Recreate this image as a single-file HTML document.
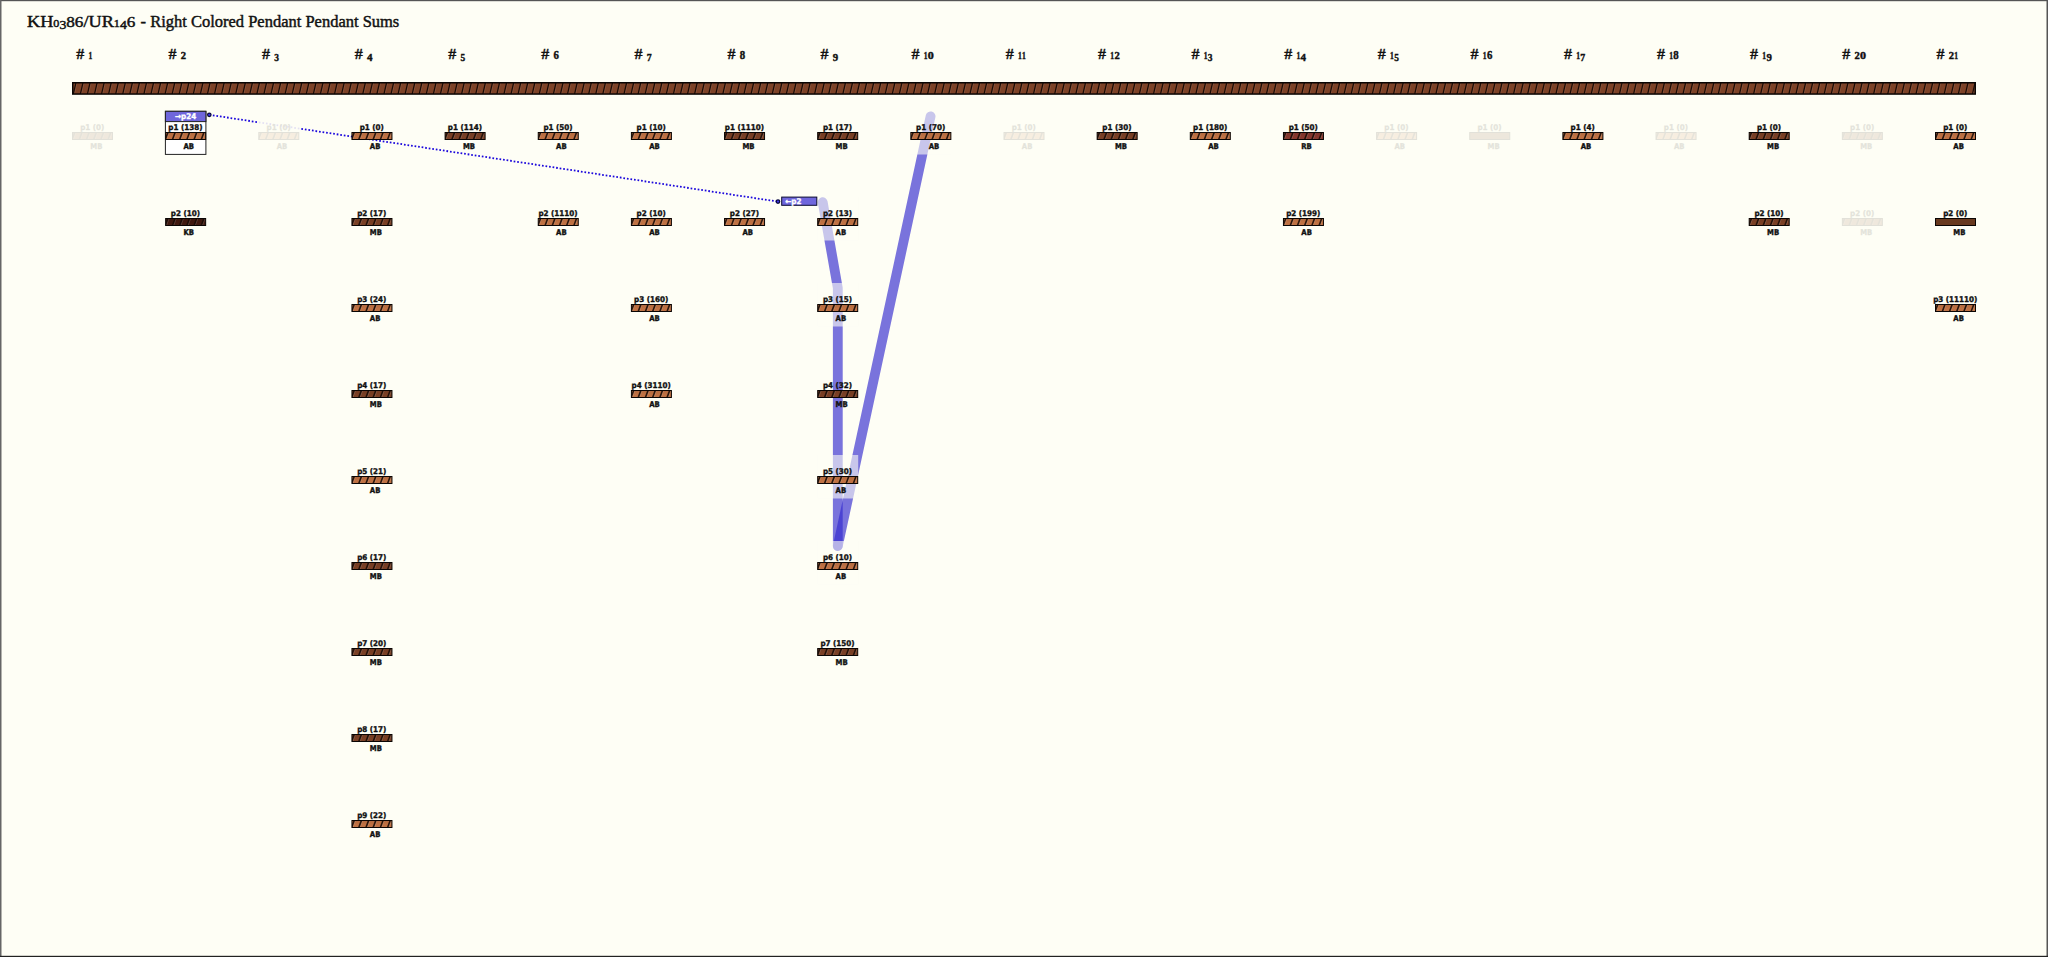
<!DOCTYPE html>
<html lang="en"><head><meta charset="utf-8"><title>KH0386/UR146 - Right Colored Pendant Pendant Sums</title>
<style>html,body{margin:0;padding:0;background:#FEFEF5;overflow:hidden}svg{display:block}.l{font-family:'DejaVu Sans Condensed','DejaVu Sans','Liberation Sans',sans-serif;font-weight:bold;font-size:7.85px;fill:#111;stroke:#111;stroke-width:.34px;text-rendering:geometricPrecision}.h{font-family:'Liberation Serif',serif;font-weight:bold;font-size:14px;fill:#111;stroke:#111;stroke-width:.3px}.t{font-family:'Liberation Serif',serif;font-size:16.5px;fill:#111;stroke:#111;stroke-width:0.45px}</style></head><body>
<svg width="2048" height="957" viewBox="0 0 2048 957">
<defs>
<clipPath id="pc"><rect x="0.5" y="0.5" width="40" height="7"/></clipPath>
<linearGradient id="sh" x1="0" y1="0" x2="0" y2="1"><stop offset="0" stop-color="#000" stop-opacity="0.10"/><stop offset="0.6" stop-color="#000" stop-opacity="0"/><stop offset="1" stop-color="#fff" stop-opacity="0.05"/></linearGradient>
<g id="st" clip-path="url(#pc)"><line x1="3.00" y1="0" x2="0.00" y2="8.00" stroke="#1a0b05" stroke-opacity="0.9" stroke-width="1.70"/><line x1="4.15" y1="0" x2="1.15" y2="8.00" stroke="#fff" stroke-opacity="0.28" stroke-width="0.6"/><line x1="10.20" y1="0" x2="7.20" y2="8.00" stroke="#1a0b05" stroke-opacity="0.9" stroke-width="1.70"/><line x1="11.35" y1="0" x2="8.35" y2="8.00" stroke="#fff" stroke-opacity="0.28" stroke-width="0.6"/><line x1="17.40" y1="0" x2="14.40" y2="8.00" stroke="#1a0b05" stroke-opacity="0.9" stroke-width="1.70"/><line x1="18.55" y1="0" x2="15.55" y2="8.00" stroke="#fff" stroke-opacity="0.28" stroke-width="0.6"/><line x1="24.60" y1="0" x2="21.60" y2="8.00" stroke="#1a0b05" stroke-opacity="0.9" stroke-width="1.70"/><line x1="25.75" y1="0" x2="22.75" y2="8.00" stroke="#fff" stroke-opacity="0.28" stroke-width="0.6"/><line x1="31.80" y1="0" x2="28.80" y2="8.00" stroke="#1a0b05" stroke-opacity="0.9" stroke-width="1.70"/><line x1="32.95" y1="0" x2="29.95" y2="8.00" stroke="#fff" stroke-opacity="0.28" stroke-width="0.6"/><line x1="39.00" y1="0" x2="36.00" y2="8.00" stroke="#1a0b05" stroke-opacity="0.9" stroke-width="1.70"/><line x1="40.15" y1="0" x2="37.15" y2="8.00" stroke="#fff" stroke-opacity="0.28" stroke-width="0.6"/><rect x="0" y="0" width="41" height="8" fill="url(#sh)"/></g>
<g id="bAB"><rect x="0.5" y="0.5" width="40" height="7" fill="#C17243"/><use href="#st"/><rect x="0.5" y="0.5" width="40" height="7" fill="none" stroke="#0a0503" stroke-width="1"/></g>
<g id="bMB"><rect x="0.5" y="0.5" width="40" height="7" fill="#7B4025"/><use href="#st"/><rect x="0.5" y="0.5" width="40" height="7" fill="none" stroke="#0a0503" stroke-width="1"/></g>
<g id="bKB"><rect x="0.5" y="0.5" width="40" height="7" fill="#41190F"/><use href="#st"/><rect x="0.5" y="0.5" width="40" height="7" fill="none" stroke="#0a0503" stroke-width="1"/></g>
<g id="bRB"><rect x="0.5" y="0.5" width="40" height="7" fill="#87372D"/><use href="#st"/><rect x="0.5" y="0.5" width="40" height="7" fill="none" stroke="#0a0503" stroke-width="1"/></g>
<g id="nAB"><rect x="0.5" y="0.5" width="40" height="7" fill="#C17243"/><rect x="0.5" y="0.5" width="40" height="7" fill="none" stroke="#0a0503" stroke-width="1"/></g>
<g id="nMB"><rect x="0.5" y="0.5" width="40" height="7" fill="#68391F"/><rect x="0.5" y="0.5" width="40" height="7" fill="none" stroke="#0a0503" stroke-width="1"/></g>
<g id="nKB"><rect x="0.5" y="0.5" width="40" height="7" fill="#41190F"/><rect x="0.5" y="0.5" width="40" height="7" fill="none" stroke="#0a0503" stroke-width="1"/></g>
<g id="nRB"><rect x="0.5" y="0.5" width="40" height="7" fill="#87372D"/><rect x="0.5" y="0.5" width="40" height="7" fill="none" stroke="#0a0503" stroke-width="1"/></g>
</defs>
<rect x="0" y="0" width="2048" height="957" fill="#FEFEF5"/>
<rect x="0" y="0" width="2048" height="1.2" fill="#555"/>
<rect x="0" y="0" width="1.5" height="957" fill="#666"/>
<rect x="2046.5" y="0" width="1.5" height="957" fill="#555"/>
<rect x="0" y="955.8" width="2048" height="1.2" fill="#222"/>
<text class="t" x="27" y="27" textLength="108.4" lengthAdjust="spacingAndGlyphs">KH<tspan font-size="11px" dy="0">0</tspan><tspan font-size="12.5px" dy="2.4">3</tspan><tspan font-size="15.5px" dy="-2.4">8</tspan><tspan font-size="15.5px" dy="0">6</tspan>/UR<tspan font-size="11px" dy="0">1</tspan><tspan font-size="12.5px" dy="2.4">4</tspan><tspan font-size="15.5px" dy="-2.4">6</tspan></text>
<text class="t" x="140.6" y="27" textLength="258.7" lengthAdjust="spacingAndGlyphs">- Right Colored Pendant Pendant Sums</text>
<text class="h" x="76.20" y="58.5" textLength="8" lengthAdjust="spacingAndGlyphs">#</text>
<text class="h" x="88.45" y="58.50" style="font-size:9.6px;stroke-width:.4px" textLength="3.80" lengthAdjust="spacingAndGlyphs">1</text>
<text class="h" x="168.60" y="58.5" textLength="8" lengthAdjust="spacingAndGlyphs">#</text>
<text class="h" x="180.85" y="58.50" style="font-size:9.6px;stroke-width:.4px" textLength="5.30" lengthAdjust="spacingAndGlyphs">2</text>
<text class="h" x="262.05" y="58.5" textLength="8" lengthAdjust="spacingAndGlyphs">#</text>
<text class="h" x="274.30" y="60.80" style="font-size:11px;stroke-width:.4px" textLength="4.70" lengthAdjust="spacingAndGlyphs">3</text>
<text class="h" x="354.80" y="58.5" textLength="8" lengthAdjust="spacingAndGlyphs">#</text>
<text class="h" x="367.05" y="60.80" style="font-size:11px;stroke-width:.4px" textLength="5.50" lengthAdjust="spacingAndGlyphs">4</text>
<text class="h" x="448.35" y="58.5" textLength="8" lengthAdjust="spacingAndGlyphs">#</text>
<text class="h" x="460.60" y="60.80" style="font-size:11px;stroke-width:.4px" textLength="4.70" lengthAdjust="spacingAndGlyphs">5</text>
<text class="h" x="541.15" y="58.5" textLength="8" lengthAdjust="spacingAndGlyphs">#</text>
<text class="h" x="553.40" y="58.50" style="font-size:11.5px;stroke-width:.4px" textLength="5.40" lengthAdjust="spacingAndGlyphs">6</text>
<text class="h" x="634.55" y="58.5" textLength="8" lengthAdjust="spacingAndGlyphs">#</text>
<text class="h" x="646.80" y="60.80" style="font-size:11px;stroke-width:.4px" textLength="4.90" lengthAdjust="spacingAndGlyphs">7</text>
<text class="h" x="727.45" y="58.5" textLength="8" lengthAdjust="spacingAndGlyphs">#</text>
<text class="h" x="739.70" y="58.50" style="font-size:11.5px;stroke-width:.4px" textLength="5.40" lengthAdjust="spacingAndGlyphs">8</text>
<text class="h" x="820.60" y="58.5" textLength="8" lengthAdjust="spacingAndGlyphs">#</text>
<text class="h" x="832.85" y="60.80" style="font-size:11px;stroke-width:.4px" textLength="5.40" lengthAdjust="spacingAndGlyphs">9</text>
<text class="h" x="911.40" y="58.5" textLength="8" lengthAdjust="spacingAndGlyphs">#</text>
<text class="h" x="923.65" y="58.50" style="font-size:9.6px;stroke-width:.4px" textLength="3.80" lengthAdjust="spacingAndGlyphs">1</text>
<text class="h" x="927.75" y="58.50" style="font-size:9.6px;stroke-width:.4px" textLength="6.00" lengthAdjust="spacingAndGlyphs">0</text>
<text class="h" x="1005.65" y="58.5" textLength="8" lengthAdjust="spacingAndGlyphs">#</text>
<text class="h" x="1017.90" y="58.50" style="font-size:9.6px;stroke-width:.4px" textLength="3.80" lengthAdjust="spacingAndGlyphs">1</text>
<text class="h" x="1022.00" y="58.50" style="font-size:9.6px;stroke-width:.4px" textLength="3.80" lengthAdjust="spacingAndGlyphs">1</text>
<text class="h" x="1098.05" y="58.5" textLength="8" lengthAdjust="spacingAndGlyphs">#</text>
<text class="h" x="1110.30" y="58.50" style="font-size:9.6px;stroke-width:.4px" textLength="3.80" lengthAdjust="spacingAndGlyphs">1</text>
<text class="h" x="1114.40" y="58.50" style="font-size:9.6px;stroke-width:.4px" textLength="5.30" lengthAdjust="spacingAndGlyphs">2</text>
<text class="h" x="1191.50" y="58.5" textLength="8" lengthAdjust="spacingAndGlyphs">#</text>
<text class="h" x="1203.75" y="58.50" style="font-size:9.6px;stroke-width:.4px" textLength="3.80" lengthAdjust="spacingAndGlyphs">1</text>
<text class="h" x="1207.85" y="60.80" style="font-size:11px;stroke-width:.4px" textLength="4.70" lengthAdjust="spacingAndGlyphs">3</text>
<text class="h" x="1284.25" y="58.5" textLength="8" lengthAdjust="spacingAndGlyphs">#</text>
<text class="h" x="1296.50" y="58.50" style="font-size:9.6px;stroke-width:.4px" textLength="3.80" lengthAdjust="spacingAndGlyphs">1</text>
<text class="h" x="1300.60" y="60.80" style="font-size:11px;stroke-width:.4px" textLength="5.50" lengthAdjust="spacingAndGlyphs">4</text>
<text class="h" x="1377.80" y="58.5" textLength="8" lengthAdjust="spacingAndGlyphs">#</text>
<text class="h" x="1390.05" y="58.50" style="font-size:9.6px;stroke-width:.4px" textLength="3.80" lengthAdjust="spacingAndGlyphs">1</text>
<text class="h" x="1394.15" y="60.80" style="font-size:11px;stroke-width:.4px" textLength="4.70" lengthAdjust="spacingAndGlyphs">5</text>
<text class="h" x="1470.60" y="58.5" textLength="8" lengthAdjust="spacingAndGlyphs">#</text>
<text class="h" x="1482.85" y="58.50" style="font-size:9.6px;stroke-width:.4px" textLength="3.80" lengthAdjust="spacingAndGlyphs">1</text>
<text class="h" x="1486.95" y="58.50" style="font-size:11.5px;stroke-width:.4px" textLength="5.40" lengthAdjust="spacingAndGlyphs">6</text>
<text class="h" x="1564.00" y="58.5" textLength="8" lengthAdjust="spacingAndGlyphs">#</text>
<text class="h" x="1576.25" y="58.50" style="font-size:9.6px;stroke-width:.4px" textLength="3.80" lengthAdjust="spacingAndGlyphs">1</text>
<text class="h" x="1580.35" y="60.80" style="font-size:11px;stroke-width:.4px" textLength="4.90" lengthAdjust="spacingAndGlyphs">7</text>
<text class="h" x="1656.90" y="58.5" textLength="8" lengthAdjust="spacingAndGlyphs">#</text>
<text class="h" x="1669.15" y="58.50" style="font-size:9.6px;stroke-width:.4px" textLength="3.80" lengthAdjust="spacingAndGlyphs">1</text>
<text class="h" x="1673.25" y="58.50" style="font-size:11.5px;stroke-width:.4px" textLength="5.40" lengthAdjust="spacingAndGlyphs">8</text>
<text class="h" x="1750.05" y="58.5" textLength="8" lengthAdjust="spacingAndGlyphs">#</text>
<text class="h" x="1762.30" y="58.50" style="font-size:9.6px;stroke-width:.4px" textLength="3.80" lengthAdjust="spacingAndGlyphs">1</text>
<text class="h" x="1766.40" y="60.80" style="font-size:11px;stroke-width:.4px" textLength="5.40" lengthAdjust="spacingAndGlyphs">9</text>
<text class="h" x="1842.15" y="58.5" textLength="8" lengthAdjust="spacingAndGlyphs">#</text>
<text class="h" x="1854.40" y="58.50" style="font-size:9.6px;stroke-width:.4px" textLength="5.30" lengthAdjust="spacingAndGlyphs">2</text>
<text class="h" x="1860.00" y="58.50" style="font-size:9.6px;stroke-width:.4px" textLength="6.00" lengthAdjust="spacingAndGlyphs">0</text>
<text class="h" x="1936.40" y="58.5" textLength="8" lengthAdjust="spacingAndGlyphs">#</text>
<text class="h" x="1948.65" y="58.50" style="font-size:9.6px;stroke-width:.4px" textLength="5.30" lengthAdjust="spacingAndGlyphs">2</text>
<text class="h" x="1954.25" y="58.50" style="font-size:9.6px;stroke-width:.4px" textLength="3.80" lengthAdjust="spacingAndGlyphs">1</text>
<clipPath id="mc"><rect x="72.75" y="82.75" width="1902.5" height="11.3"/></clipPath>
<rect x="72.75" y="82.75" width="1902.5" height="11.3" fill="#7D4227"/>
<g clip-path="url(#mc)"><path d="M75.95 82.75L73.35 94.05M83.01 82.75L80.41 94.05M90.07 82.75L87.47 94.05M97.13 82.75L94.53 94.05M104.19 82.75L101.59 94.05M111.25 82.75L108.65 94.05M118.31 82.75L115.71 94.05M125.37 82.75L122.77 94.05M132.43 82.75L129.83 94.05M139.49 82.75L136.89 94.05M146.55 82.75L143.95 94.05M153.61 82.75L151.01 94.05M160.67 82.75L158.07 94.05M167.73 82.75L165.13 94.05M174.79 82.75L172.19 94.05M181.85 82.75L179.25 94.05M188.91 82.75L186.31 94.05M195.97 82.75L193.37 94.05M203.03 82.75L200.43 94.05M210.09 82.75L207.49 94.05M217.15 82.75L214.55 94.05M224.21 82.75L221.61 94.05M231.27 82.75L228.67 94.05M238.33 82.75L235.73 94.05M245.39 82.75L242.79 94.05M252.45 82.75L249.85 94.05M259.51 82.75L256.91 94.05M266.57 82.75L263.97 94.05M273.63 82.75L271.03 94.05M280.69 82.75L278.09 94.05M287.75 82.75L285.15 94.05M294.81 82.75L292.21 94.05M301.87 82.75L299.27 94.05M308.93 82.75L306.33 94.05M315.99 82.75L313.39 94.05M323.05 82.75L320.45 94.05M330.11 82.75L327.51 94.05M337.17 82.75L334.57 94.05M344.23 82.75L341.63 94.05M351.29 82.75L348.69 94.05M358.35 82.75L355.75 94.05M365.41 82.75L362.81 94.05M372.47 82.75L369.87 94.05M379.53 82.75L376.93 94.05M386.59 82.75L383.99 94.05M393.65 82.75L391.05 94.05M400.71 82.75L398.11 94.05M407.77 82.75L405.17 94.05M414.83 82.75L412.23 94.05M421.89 82.75L419.29 94.05M428.95 82.75L426.35 94.05M436.01 82.75L433.41 94.05M443.07 82.75L440.47 94.05M450.13 82.75L447.53 94.05M457.19 82.75L454.59 94.05M464.25 82.75L461.65 94.05M471.31 82.75L468.71 94.05M478.37 82.75L475.77 94.05M485.43 82.75L482.83 94.05M492.49 82.75L489.89 94.05M499.55 82.75L496.95 94.05M506.61 82.75L504.01 94.05M513.67 82.75L511.07 94.05M520.73 82.75L518.13 94.05M527.79 82.75L525.19 94.05M534.85 82.75L532.25 94.05M541.91 82.75L539.31 94.05M548.97 82.75L546.37 94.05M556.03 82.75L553.43 94.05M563.09 82.75L560.49 94.05M570.15 82.75L567.55 94.05M577.21 82.75L574.61 94.05M584.27 82.75L581.67 94.05M591.33 82.75L588.73 94.05M598.39 82.75L595.79 94.05M605.45 82.75L602.85 94.05M612.51 82.75L609.91 94.05M619.57 82.75L616.97 94.05M626.63 82.75L624.03 94.05M633.69 82.75L631.09 94.05M640.75 82.75L638.15 94.05M647.81 82.75L645.21 94.05M654.87 82.75L652.27 94.05M661.93 82.75L659.33 94.05M668.99 82.75L666.39 94.05M676.05 82.75L673.45 94.05M683.11 82.75L680.51 94.05M690.17 82.75L687.57 94.05M697.23 82.75L694.63 94.05M704.29 82.75L701.69 94.05M711.35 82.75L708.75 94.05M718.41 82.75L715.81 94.05M725.47 82.75L722.87 94.05M732.53 82.75L729.93 94.05M739.59 82.75L736.99 94.05M746.65 82.75L744.05 94.05M753.71 82.75L751.11 94.05M760.77 82.75L758.17 94.05M767.83 82.75L765.23 94.05M774.89 82.75L772.29 94.05M781.95 82.75L779.35 94.05M789.01 82.75L786.41 94.05M796.07 82.75L793.47 94.05M803.13 82.75L800.53 94.05M810.19 82.75L807.59 94.05M817.25 82.75L814.65 94.05M824.31 82.75L821.71 94.05M831.37 82.75L828.77 94.05M838.43 82.75L835.83 94.05M845.49 82.75L842.89 94.05M852.55 82.75L849.95 94.05M859.61 82.75L857.01 94.05M866.67 82.75L864.07 94.05M873.73 82.75L871.13 94.05M880.79 82.75L878.19 94.05M887.85 82.75L885.25 94.05M894.91 82.75L892.31 94.05M901.97 82.75L899.37 94.05M909.03 82.75L906.43 94.05M916.09 82.75L913.49 94.05M923.15 82.75L920.55 94.05M930.21 82.75L927.61 94.05M937.27 82.75L934.67 94.05M944.33 82.75L941.73 94.05M951.39 82.75L948.79 94.05M958.45 82.75L955.85 94.05M965.51 82.75L962.91 94.05M972.57 82.75L969.97 94.05M979.63 82.75L977.03 94.05M986.69 82.75L984.09 94.05M993.75 82.75L991.15 94.05M1000.81 82.75L998.21 94.05M1007.87 82.75L1005.27 94.05M1014.93 82.75L1012.33 94.05M1021.99 82.75L1019.39 94.05M1029.05 82.75L1026.45 94.05M1036.11 82.75L1033.51 94.05M1043.17 82.75L1040.57 94.05M1050.23 82.75L1047.63 94.05M1057.29 82.75L1054.69 94.05M1064.35 82.75L1061.75 94.05M1071.41 82.75L1068.81 94.05M1078.47 82.75L1075.87 94.05M1085.53 82.75L1082.93 94.05M1092.59 82.75L1089.99 94.05M1099.65 82.75L1097.05 94.05M1106.71 82.75L1104.11 94.05M1113.77 82.75L1111.17 94.05M1120.83 82.75L1118.23 94.05M1127.89 82.75L1125.29 94.05M1134.95 82.75L1132.35 94.05M1142.01 82.75L1139.41 94.05M1149.07 82.75L1146.47 94.05M1156.13 82.75L1153.53 94.05M1163.19 82.75L1160.59 94.05M1170.25 82.75L1167.65 94.05M1177.31 82.75L1174.71 94.05M1184.37 82.75L1181.77 94.05M1191.43 82.75L1188.83 94.05M1198.49 82.75L1195.89 94.05M1205.55 82.75L1202.95 94.05M1212.61 82.75L1210.01 94.05M1219.67 82.75L1217.07 94.05M1226.73 82.75L1224.13 94.05M1233.79 82.75L1231.19 94.05M1240.85 82.75L1238.25 94.05M1247.91 82.75L1245.31 94.05M1254.97 82.75L1252.37 94.05M1262.03 82.75L1259.43 94.05M1269.09 82.75L1266.49 94.05M1276.15 82.75L1273.55 94.05M1283.21 82.75L1280.61 94.05M1290.27 82.75L1287.67 94.05M1297.33 82.75L1294.73 94.05M1304.39 82.75L1301.79 94.05M1311.45 82.75L1308.85 94.05M1318.51 82.75L1315.91 94.05M1325.57 82.75L1322.97 94.05M1332.63 82.75L1330.03 94.05M1339.69 82.75L1337.09 94.05M1346.75 82.75L1344.15 94.05M1353.81 82.75L1351.21 94.05M1360.87 82.75L1358.27 94.05M1367.93 82.75L1365.33 94.05M1374.99 82.75L1372.39 94.05M1382.05 82.75L1379.45 94.05M1389.11 82.75L1386.51 94.05M1396.17 82.75L1393.57 94.05M1403.23 82.75L1400.63 94.05M1410.29 82.75L1407.69 94.05M1417.35 82.75L1414.75 94.05M1424.41 82.75L1421.81 94.05M1431.47 82.75L1428.87 94.05M1438.53 82.75L1435.93 94.05M1445.59 82.75L1442.99 94.05M1452.65 82.75L1450.05 94.05M1459.71 82.75L1457.11 94.05M1466.77 82.75L1464.17 94.05M1473.83 82.75L1471.23 94.05M1480.89 82.75L1478.29 94.05M1487.95 82.75L1485.35 94.05M1495.01 82.75L1492.41 94.05M1502.07 82.75L1499.47 94.05M1509.13 82.75L1506.53 94.05M1516.19 82.75L1513.59 94.05M1523.25 82.75L1520.65 94.05M1530.31 82.75L1527.71 94.05M1537.37 82.75L1534.77 94.05M1544.43 82.75L1541.83 94.05M1551.49 82.75L1548.89 94.05M1558.55 82.75L1555.95 94.05M1565.61 82.75L1563.01 94.05M1572.67 82.75L1570.07 94.05M1579.73 82.75L1577.13 94.05M1586.79 82.75L1584.19 94.05M1593.85 82.75L1591.25 94.05M1600.91 82.75L1598.31 94.05M1607.97 82.75L1605.37 94.05M1615.03 82.75L1612.43 94.05M1622.09 82.75L1619.49 94.05M1629.15 82.75L1626.55 94.05M1636.21 82.75L1633.61 94.05M1643.27 82.75L1640.67 94.05M1650.33 82.75L1647.73 94.05M1657.39 82.75L1654.79 94.05M1664.45 82.75L1661.85 94.05M1671.51 82.75L1668.91 94.05M1678.57 82.75L1675.97 94.05M1685.63 82.75L1683.03 94.05M1692.69 82.75L1690.09 94.05M1699.75 82.75L1697.15 94.05M1706.81 82.75L1704.21 94.05M1713.87 82.75L1711.27 94.05M1720.93 82.75L1718.33 94.05M1727.99 82.75L1725.39 94.05M1735.05 82.75L1732.45 94.05M1742.11 82.75L1739.51 94.05M1749.17 82.75L1746.57 94.05M1756.23 82.75L1753.63 94.05M1763.29 82.75L1760.69 94.05M1770.35 82.75L1767.75 94.05M1777.41 82.75L1774.81 94.05M1784.47 82.75L1781.87 94.05M1791.53 82.75L1788.93 94.05M1798.59 82.75L1795.99 94.05M1805.65 82.75L1803.05 94.05M1812.71 82.75L1810.11 94.05M1819.77 82.75L1817.17 94.05M1826.83 82.75L1824.23 94.05M1833.89 82.75L1831.29 94.05M1840.95 82.75L1838.35 94.05M1848.01 82.75L1845.41 94.05M1855.07 82.75L1852.47 94.05M1862.13 82.75L1859.53 94.05M1869.19 82.75L1866.59 94.05M1876.25 82.75L1873.65 94.05M1883.31 82.75L1880.71 94.05M1890.37 82.75L1887.77 94.05M1897.43 82.75L1894.83 94.05M1904.49 82.75L1901.89 94.05M1911.55 82.75L1908.95 94.05M1918.61 82.75L1916.01 94.05M1925.67 82.75L1923.07 94.05M1932.73 82.75L1930.13 94.05M1939.79 82.75L1937.19 94.05M1946.85 82.75L1944.25 94.05M1953.91 82.75L1951.31 94.05M1960.97 82.75L1958.37 94.05M1968.03 82.75L1965.43 94.05M1975.09 82.75L1972.49 94.05" stroke="#1a0a04" stroke-width="1.3" fill="none"/>
<path d="M76.95 82.75L74.35 94.05M84.01 82.75L81.41 94.05M91.07 82.75L88.47 94.05M98.13 82.75L95.53 94.05M105.19 82.75L102.59 94.05M112.25 82.75L109.65 94.05M119.31 82.75L116.71 94.05M126.37 82.75L123.77 94.05M133.43 82.75L130.83 94.05M140.49 82.75L137.89 94.05M147.55 82.75L144.95 94.05M154.61 82.75L152.01 94.05M161.67 82.75L159.07 94.05M168.73 82.75L166.13 94.05M175.79 82.75L173.19 94.05M182.85 82.75L180.25 94.05M189.91 82.75L187.31 94.05M196.97 82.75L194.37 94.05M204.03 82.75L201.43 94.05M211.09 82.75L208.49 94.05M218.15 82.75L215.55 94.05M225.21 82.75L222.61 94.05M232.27 82.75L229.67 94.05M239.33 82.75L236.73 94.05M246.39 82.75L243.79 94.05M253.45 82.75L250.85 94.05M260.51 82.75L257.91 94.05M267.57 82.75L264.97 94.05M274.63 82.75L272.03 94.05M281.69 82.75L279.09 94.05M288.75 82.75L286.15 94.05M295.81 82.75L293.21 94.05M302.87 82.75L300.27 94.05M309.93 82.75L307.33 94.05M316.99 82.75L314.39 94.05M324.05 82.75L321.45 94.05M331.11 82.75L328.51 94.05M338.17 82.75L335.57 94.05M345.23 82.75L342.63 94.05M352.29 82.75L349.69 94.05M359.35 82.75L356.75 94.05M366.41 82.75L363.81 94.05M373.47 82.75L370.87 94.05M380.53 82.75L377.93 94.05M387.59 82.75L384.99 94.05M394.65 82.75L392.05 94.05M401.71 82.75L399.11 94.05M408.77 82.75L406.17 94.05M415.83 82.75L413.23 94.05M422.89 82.75L420.29 94.05M429.95 82.75L427.35 94.05M437.01 82.75L434.41 94.05M444.07 82.75L441.47 94.05M451.13 82.75L448.53 94.05M458.19 82.75L455.59 94.05M465.25 82.75L462.65 94.05M472.31 82.75L469.71 94.05M479.37 82.75L476.77 94.05M486.43 82.75L483.83 94.05M493.49 82.75L490.89 94.05M500.55 82.75L497.95 94.05M507.61 82.75L505.01 94.05M514.67 82.75L512.07 94.05M521.73 82.75L519.13 94.05M528.79 82.75L526.19 94.05M535.85 82.75L533.25 94.05M542.91 82.75L540.31 94.05M549.97 82.75L547.37 94.05M557.03 82.75L554.43 94.05M564.09 82.75L561.49 94.05M571.15 82.75L568.55 94.05M578.21 82.75L575.61 94.05M585.27 82.75L582.67 94.05M592.33 82.75L589.73 94.05M599.39 82.75L596.79 94.05M606.45 82.75L603.85 94.05M613.51 82.75L610.91 94.05M620.57 82.75L617.97 94.05M627.63 82.75L625.03 94.05M634.69 82.75L632.09 94.05M641.75 82.75L639.15 94.05M648.81 82.75L646.21 94.05M655.87 82.75L653.27 94.05M662.93 82.75L660.33 94.05M669.99 82.75L667.39 94.05M677.05 82.75L674.45 94.05M684.11 82.75L681.51 94.05M691.17 82.75L688.57 94.05M698.23 82.75L695.63 94.05M705.29 82.75L702.69 94.05M712.35 82.75L709.75 94.05M719.41 82.75L716.81 94.05M726.47 82.75L723.87 94.05M733.53 82.75L730.93 94.05M740.59 82.75L737.99 94.05M747.65 82.75L745.05 94.05M754.71 82.75L752.11 94.05M761.77 82.75L759.17 94.05M768.83 82.75L766.23 94.05M775.89 82.75L773.29 94.05M782.95 82.75L780.35 94.05M790.01 82.75L787.41 94.05M797.07 82.75L794.47 94.05M804.13 82.75L801.53 94.05M811.19 82.75L808.59 94.05M818.25 82.75L815.65 94.05M825.31 82.75L822.71 94.05M832.37 82.75L829.77 94.05M839.43 82.75L836.83 94.05M846.49 82.75L843.89 94.05M853.55 82.75L850.95 94.05M860.61 82.75L858.01 94.05M867.67 82.75L865.07 94.05M874.73 82.75L872.13 94.05M881.79 82.75L879.19 94.05M888.85 82.75L886.25 94.05M895.91 82.75L893.31 94.05M902.97 82.75L900.37 94.05M910.03 82.75L907.43 94.05M917.09 82.75L914.49 94.05M924.15 82.75L921.55 94.05M931.21 82.75L928.61 94.05M938.27 82.75L935.67 94.05M945.33 82.75L942.73 94.05M952.39 82.75L949.79 94.05M959.45 82.75L956.85 94.05M966.51 82.75L963.91 94.05M973.57 82.75L970.97 94.05M980.63 82.75L978.03 94.05M987.69 82.75L985.09 94.05M994.75 82.75L992.15 94.05M1001.81 82.75L999.21 94.05M1008.87 82.75L1006.27 94.05M1015.93 82.75L1013.33 94.05M1022.99 82.75L1020.39 94.05M1030.05 82.75L1027.45 94.05M1037.11 82.75L1034.51 94.05M1044.17 82.75L1041.57 94.05M1051.23 82.75L1048.63 94.05M1058.29 82.75L1055.69 94.05M1065.35 82.75L1062.75 94.05M1072.41 82.75L1069.81 94.05M1079.47 82.75L1076.87 94.05M1086.53 82.75L1083.93 94.05M1093.59 82.75L1090.99 94.05M1100.65 82.75L1098.05 94.05M1107.71 82.75L1105.11 94.05M1114.77 82.75L1112.17 94.05M1121.83 82.75L1119.23 94.05M1128.89 82.75L1126.29 94.05M1135.95 82.75L1133.35 94.05M1143.01 82.75L1140.41 94.05M1150.07 82.75L1147.47 94.05M1157.13 82.75L1154.53 94.05M1164.19 82.75L1161.59 94.05M1171.25 82.75L1168.65 94.05M1178.31 82.75L1175.71 94.05M1185.37 82.75L1182.77 94.05M1192.43 82.75L1189.83 94.05M1199.49 82.75L1196.89 94.05M1206.55 82.75L1203.95 94.05M1213.61 82.75L1211.01 94.05M1220.67 82.75L1218.07 94.05M1227.73 82.75L1225.13 94.05M1234.79 82.75L1232.19 94.05M1241.85 82.75L1239.25 94.05M1248.91 82.75L1246.31 94.05M1255.97 82.75L1253.37 94.05M1263.03 82.75L1260.43 94.05M1270.09 82.75L1267.49 94.05M1277.15 82.75L1274.55 94.05M1284.21 82.75L1281.61 94.05M1291.27 82.75L1288.67 94.05M1298.33 82.75L1295.73 94.05M1305.39 82.75L1302.79 94.05M1312.45 82.75L1309.85 94.05M1319.51 82.75L1316.91 94.05M1326.57 82.75L1323.97 94.05M1333.63 82.75L1331.03 94.05M1340.69 82.75L1338.09 94.05M1347.75 82.75L1345.15 94.05M1354.81 82.75L1352.21 94.05M1361.87 82.75L1359.27 94.05M1368.93 82.75L1366.33 94.05M1375.99 82.75L1373.39 94.05M1383.05 82.75L1380.45 94.05M1390.11 82.75L1387.51 94.05M1397.17 82.75L1394.57 94.05M1404.23 82.75L1401.63 94.05M1411.29 82.75L1408.69 94.05M1418.35 82.75L1415.75 94.05M1425.41 82.75L1422.81 94.05M1432.47 82.75L1429.87 94.05M1439.53 82.75L1436.93 94.05M1446.59 82.75L1443.99 94.05M1453.65 82.75L1451.05 94.05M1460.71 82.75L1458.11 94.05M1467.77 82.75L1465.17 94.05M1474.83 82.75L1472.23 94.05M1481.89 82.75L1479.29 94.05M1488.95 82.75L1486.35 94.05M1496.01 82.75L1493.41 94.05M1503.07 82.75L1500.47 94.05M1510.13 82.75L1507.53 94.05M1517.19 82.75L1514.59 94.05M1524.25 82.75L1521.65 94.05M1531.31 82.75L1528.71 94.05M1538.37 82.75L1535.77 94.05M1545.43 82.75L1542.83 94.05M1552.49 82.75L1549.89 94.05M1559.55 82.75L1556.95 94.05M1566.61 82.75L1564.01 94.05M1573.67 82.75L1571.07 94.05M1580.73 82.75L1578.13 94.05M1587.79 82.75L1585.19 94.05M1594.85 82.75L1592.25 94.05M1601.91 82.75L1599.31 94.05M1608.97 82.75L1606.37 94.05M1616.03 82.75L1613.43 94.05M1623.09 82.75L1620.49 94.05M1630.15 82.75L1627.55 94.05M1637.21 82.75L1634.61 94.05M1644.27 82.75L1641.67 94.05M1651.33 82.75L1648.73 94.05M1658.39 82.75L1655.79 94.05M1665.45 82.75L1662.85 94.05M1672.51 82.75L1669.91 94.05M1679.57 82.75L1676.97 94.05M1686.63 82.75L1684.03 94.05M1693.69 82.75L1691.09 94.05M1700.75 82.75L1698.15 94.05M1707.81 82.75L1705.21 94.05M1714.87 82.75L1712.27 94.05M1721.93 82.75L1719.33 94.05M1728.99 82.75L1726.39 94.05M1736.05 82.75L1733.45 94.05M1743.11 82.75L1740.51 94.05M1750.17 82.75L1747.57 94.05M1757.23 82.75L1754.63 94.05M1764.29 82.75L1761.69 94.05M1771.35 82.75L1768.75 94.05M1778.41 82.75L1775.81 94.05M1785.47 82.75L1782.87 94.05M1792.53 82.75L1789.93 94.05M1799.59 82.75L1796.99 94.05M1806.65 82.75L1804.05 94.05M1813.71 82.75L1811.11 94.05M1820.77 82.75L1818.17 94.05M1827.83 82.75L1825.23 94.05M1834.89 82.75L1832.29 94.05M1841.95 82.75L1839.35 94.05M1849.01 82.75L1846.41 94.05M1856.07 82.75L1853.47 94.05M1863.13 82.75L1860.53 94.05M1870.19 82.75L1867.59 94.05M1877.25 82.75L1874.65 94.05M1884.31 82.75L1881.71 94.05M1891.37 82.75L1888.77 94.05M1898.43 82.75L1895.83 94.05M1905.49 82.75L1902.89 94.05M1912.55 82.75L1909.95 94.05M1919.61 82.75L1917.01 94.05M1926.67 82.75L1924.07 94.05M1933.73 82.75L1931.13 94.05M1940.79 82.75L1938.19 94.05M1947.85 82.75L1945.25 94.05M1954.91 82.75L1952.31 94.05M1961.97 82.75L1959.37 94.05M1969.03 82.75L1966.43 94.05M1976.09 82.75L1973.49 94.05" stroke="#fff" stroke-opacity="0.18" stroke-width="0.6" fill="none"/></g>
<rect x="72.75" y="82.75" width="1902.5" height="11.3" fill="none" stroke="#0a0503" stroke-width="1.5"/>
<line x1="209.3" y1="114.8" x2="777.8" y2="201.6" stroke="#1c08dc" stroke-width="1.8" stroke-dasharray="1.7 1.88"/>
<g fill="none" stroke="rgb(52,42,206)" stroke-opacity="0.66" stroke-width="9.8" stroke-linecap="round" stroke-linejoin="round">
<polyline points="822.7,202.2 837.8,288 837.8,546"/>
<line x1="930.6" y1="116.3" x2="837.8" y2="546"/>
</g>
<text class="l" x="80.20" y="129.60" textLength="24.20" lengthAdjust="spacingAndGlyphs">p1 (0)</text><use href="#bMB" x="72.00" y="132.00"/><text class="l" x="90.35" y="148.80" textLength="12.14" lengthAdjust="spacingAndGlyphs">MB</text><rect x="71.00" y="110.00" width="44" height="46" fill="#FEFEF5" fill-opacity="0.885"/>
<rect x="165.40" y="111.30" width="40.5" height="43.1" fill="#fff" stroke="#222" stroke-width="1"/><rect x="165.40" y="111.30" width="40.5" height="10.3" fill="#6F66DC" stroke="#222" stroke-width="1"/><text class="l" x="175.07" y="118.70" textLength="21.16" lengthAdjust="spacingAndGlyphs" style="fill:#fff;stroke:#fff">→p24</text><text class="l" x="168.35" y="129.60" textLength="34.20" lengthAdjust="spacingAndGlyphs">p1 (138)</text><use href="#bAB" x="165.15" y="132.00"/><text class="l" x="183.50" y="148.80" textLength="10.61" lengthAdjust="spacingAndGlyphs">AB</text>
<text class="l" x="170.85" y="215.60" textLength="29.20" lengthAdjust="spacingAndGlyphs">p2 (10)</text><use href="#bKB" x="165.15" y="218.00"/><text class="l" x="183.50" y="234.80" textLength="10.62" lengthAdjust="spacingAndGlyphs">KB</text>
<text class="l" x="266.50" y="129.60" textLength="24.20" lengthAdjust="spacingAndGlyphs">p1 (0)</text><use href="#bAB" x="258.30" y="132.00"/><text class="l" x="276.65" y="148.80" textLength="10.61" lengthAdjust="spacingAndGlyphs">AB</text><rect x="257.00" y="110.00" width="44" height="46" fill="#FEFEF5" fill-opacity="0.885"/>
<text class="l" x="359.65" y="129.60" textLength="24.20" lengthAdjust="spacingAndGlyphs">p1 (0)</text><use href="#bAB" x="351.45" y="132.00"/><text class="l" x="369.80" y="148.80" textLength="10.61" lengthAdjust="spacingAndGlyphs">AB</text>
<text class="l" x="357.15" y="215.60" textLength="29.20" lengthAdjust="spacingAndGlyphs">p2 (17)</text><use href="#bMB" x="351.45" y="218.00"/><text class="l" x="369.80" y="234.80" textLength="12.14" lengthAdjust="spacingAndGlyphs">MB</text>
<text class="l" x="357.15" y="301.60" textLength="29.20" lengthAdjust="spacingAndGlyphs">p3 (24)</text><use href="#bAB" x="351.45" y="304.00"/><text class="l" x="369.80" y="320.80" textLength="10.61" lengthAdjust="spacingAndGlyphs">AB</text>
<text class="l" x="357.15" y="387.60" textLength="29.20" lengthAdjust="spacingAndGlyphs">p4 (17)</text><use href="#bMB" x="351.45" y="390.00"/><text class="l" x="369.80" y="406.80" textLength="12.14" lengthAdjust="spacingAndGlyphs">MB</text>
<text class="l" x="357.15" y="473.60" textLength="29.20" lengthAdjust="spacingAndGlyphs">p5 (21)</text><use href="#bAB" x="351.45" y="476.00"/><text class="l" x="369.80" y="492.80" textLength="10.61" lengthAdjust="spacingAndGlyphs">AB</text>
<text class="l" x="357.15" y="559.60" textLength="29.20" lengthAdjust="spacingAndGlyphs">p6 (17)</text><use href="#bMB" x="351.45" y="562.00"/><text class="l" x="369.80" y="578.80" textLength="12.14" lengthAdjust="spacingAndGlyphs">MB</text>
<text class="l" x="357.15" y="645.60" textLength="29.20" lengthAdjust="spacingAndGlyphs">p7 (20)</text><use href="#bMB" x="351.45" y="648.00"/><text class="l" x="369.80" y="664.80" textLength="12.14" lengthAdjust="spacingAndGlyphs">MB</text>
<text class="l" x="357.15" y="731.60" textLength="29.20" lengthAdjust="spacingAndGlyphs">p8 (17)</text><use href="#bMB" x="351.45" y="734.00"/><text class="l" x="369.80" y="750.80" textLength="12.14" lengthAdjust="spacingAndGlyphs">MB</text>
<text class="l" x="357.15" y="817.60" textLength="29.20" lengthAdjust="spacingAndGlyphs">p9 (22)</text><use href="#bAB" x="351.45" y="820.00"/><text class="l" x="369.80" y="836.80" textLength="10.61" lengthAdjust="spacingAndGlyphs">AB</text>
<text class="l" x="447.80" y="129.60" textLength="34.20" lengthAdjust="spacingAndGlyphs">p1 (114)</text><use href="#bMB" x="444.60" y="132.00"/><text class="l" x="462.95" y="148.80" textLength="12.14" lengthAdjust="spacingAndGlyphs">MB</text>
<text class="l" x="543.45" y="129.60" textLength="29.20" lengthAdjust="spacingAndGlyphs">p1 (50)</text><use href="#bAB" x="537.75" y="132.00"/><text class="l" x="556.10" y="148.80" textLength="10.61" lengthAdjust="spacingAndGlyphs">AB</text>
<text class="l" x="538.45" y="215.60" textLength="39.19" lengthAdjust="spacingAndGlyphs">p2 (1110)</text><use href="#bAB" x="537.75" y="218.00"/><text class="l" x="556.10" y="234.80" textLength="10.61" lengthAdjust="spacingAndGlyphs">AB</text>
<text class="l" x="636.60" y="129.60" textLength="29.20" lengthAdjust="spacingAndGlyphs">p1 (10)</text><use href="#bAB" x="630.90" y="132.00"/><text class="l" x="649.25" y="148.80" textLength="10.61" lengthAdjust="spacingAndGlyphs">AB</text>
<text class="l" x="636.60" y="215.60" textLength="29.20" lengthAdjust="spacingAndGlyphs">p2 (10)</text><use href="#bAB" x="630.90" y="218.00"/><text class="l" x="649.25" y="234.80" textLength="10.61" lengthAdjust="spacingAndGlyphs">AB</text>
<text class="l" x="634.10" y="301.60" textLength="34.20" lengthAdjust="spacingAndGlyphs">p3 (160)</text><use href="#bAB" x="630.90" y="304.00"/><text class="l" x="649.25" y="320.80" textLength="10.61" lengthAdjust="spacingAndGlyphs">AB</text>
<text class="l" x="631.60" y="387.60" textLength="39.19" lengthAdjust="spacingAndGlyphs">p4 (3110)</text><use href="#bAB" x="630.90" y="390.00"/><text class="l" x="649.25" y="406.80" textLength="10.61" lengthAdjust="spacingAndGlyphs">AB</text>
<text class="l" x="724.75" y="129.60" textLength="39.19" lengthAdjust="spacingAndGlyphs">p1 (1110)</text><use href="#bMB" x="724.05" y="132.00"/><text class="l" x="742.40" y="148.80" textLength="12.14" lengthAdjust="spacingAndGlyphs">MB</text>
<text class="l" x="729.75" y="215.60" textLength="29.20" lengthAdjust="spacingAndGlyphs">p2 (27)</text><use href="#bAB" x="724.05" y="218.00"/><text class="l" x="742.40" y="234.80" textLength="10.61" lengthAdjust="spacingAndGlyphs">AB</text>
<text class="l" x="822.90" y="129.60" textLength="29.20" lengthAdjust="spacingAndGlyphs">p1 (17)</text><use href="#bMB" x="817.20" y="132.00"/><text class="l" x="835.55" y="148.80" textLength="12.14" lengthAdjust="spacingAndGlyphs">MB</text>
<rect x="817.20" y="197.00" width="41" height="43.5" fill="#FEFEF5" fill-opacity="0.6"/><text class="l" x="822.90" y="215.60" textLength="29.20" lengthAdjust="spacingAndGlyphs">p2 (13)</text><use href="#bAB" x="817.20" y="218.00"/><text class="l" x="835.55" y="234.80" textLength="10.61" lengthAdjust="spacingAndGlyphs">AB</text>
<rect x="817.20" y="283.00" width="41" height="43.5" fill="#FEFEF5" fill-opacity="0.6"/><text class="l" x="822.90" y="301.60" textLength="29.20" lengthAdjust="spacingAndGlyphs">p3 (15)</text><use href="#bAB" x="817.20" y="304.00"/><text class="l" x="835.55" y="320.80" textLength="10.61" lengthAdjust="spacingAndGlyphs">AB</text>
<text class="l" x="822.90" y="387.60" textLength="29.20" lengthAdjust="spacingAndGlyphs">p4 (32)</text><use href="#bMB" x="817.20" y="390.00"/><text class="l" x="835.55" y="406.80" textLength="12.14" lengthAdjust="spacingAndGlyphs">MB</text>
<rect x="817.20" y="455.00" width="41" height="43.5" fill="#FEFEF5" fill-opacity="0.6"/><text class="l" x="822.90" y="473.60" textLength="29.20" lengthAdjust="spacingAndGlyphs">p5 (30)</text><use href="#bAB" x="817.20" y="476.00"/><text class="l" x="835.55" y="492.80" textLength="10.61" lengthAdjust="spacingAndGlyphs">AB</text>
<rect x="817.20" y="541.00" width="41" height="43.5" fill="#FEFEF5" fill-opacity="0.6"/><text class="l" x="822.90" y="559.60" textLength="29.20" lengthAdjust="spacingAndGlyphs">p6 (10)</text><use href="#bAB" x="817.20" y="562.00"/><text class="l" x="835.55" y="578.80" textLength="10.61" lengthAdjust="spacingAndGlyphs">AB</text>
<text class="l" x="820.40" y="645.60" textLength="34.20" lengthAdjust="spacingAndGlyphs">p7 (150)</text><use href="#bMB" x="817.20" y="648.00"/><text class="l" x="835.55" y="664.80" textLength="12.14" lengthAdjust="spacingAndGlyphs">MB</text>
<rect x="910.35" y="111.00" width="41" height="43.5" fill="#FEFEF5" fill-opacity="0.6"/><text class="l" x="916.05" y="129.60" textLength="29.20" lengthAdjust="spacingAndGlyphs">p1 (70)</text><use href="#bAB" x="910.35" y="132.00"/><text class="l" x="928.70" y="148.80" textLength="10.61" lengthAdjust="spacingAndGlyphs">AB</text>
<text class="l" x="1011.70" y="129.60" textLength="24.20" lengthAdjust="spacingAndGlyphs">p1 (0)</text><use href="#bAB" x="1003.50" y="132.00"/><text class="l" x="1021.85" y="148.80" textLength="10.61" lengthAdjust="spacingAndGlyphs">AB</text><rect x="1003.00" y="110.00" width="44" height="46" fill="#FEFEF5" fill-opacity="0.885"/>
<text class="l" x="1102.35" y="129.60" textLength="29.20" lengthAdjust="spacingAndGlyphs">p1 (30)</text><use href="#bMB" x="1096.65" y="132.00"/><text class="l" x="1115.00" y="148.80" textLength="12.14" lengthAdjust="spacingAndGlyphs">MB</text>
<text class="l" x="1193.00" y="129.60" textLength="34.20" lengthAdjust="spacingAndGlyphs">p1 (180)</text><use href="#bAB" x="1189.80" y="132.00"/><text class="l" x="1208.15" y="148.80" textLength="10.61" lengthAdjust="spacingAndGlyphs">AB</text>
<text class="l" x="1288.65" y="129.60" textLength="29.20" lengthAdjust="spacingAndGlyphs">p1 (50)</text><use href="#bRB" x="1282.95" y="132.00"/><text class="l" x="1301.30" y="148.80" textLength="10.58" lengthAdjust="spacingAndGlyphs">RB</text>
<text class="l" x="1286.15" y="215.60" textLength="34.20" lengthAdjust="spacingAndGlyphs">p2 (199)</text><use href="#bAB" x="1282.95" y="218.00"/><text class="l" x="1301.30" y="234.80" textLength="10.61" lengthAdjust="spacingAndGlyphs">AB</text>
<text class="l" x="1384.30" y="129.60" textLength="24.20" lengthAdjust="spacingAndGlyphs">p1 (0)</text><use href="#bAB" x="1376.10" y="132.00"/><text class="l" x="1394.45" y="148.80" textLength="10.61" lengthAdjust="spacingAndGlyphs">AB</text><rect x="1375.00" y="110.00" width="44" height="46" fill="#FEFEF5" fill-opacity="0.885"/>
<text class="l" x="1477.45" y="129.60" textLength="24.20" lengthAdjust="spacingAndGlyphs">p1 (0)</text><use href="#nMB" x="1469.25" y="132.00"/><text class="l" x="1487.60" y="148.80" textLength="12.14" lengthAdjust="spacingAndGlyphs">MB</text><rect x="1468.00" y="110.00" width="44" height="46" fill="#FEFEF5" fill-opacity="0.885"/>
<text class="l" x="1570.60" y="129.60" textLength="24.20" lengthAdjust="spacingAndGlyphs">p1 (4)</text><use href="#bAB" x="1562.40" y="132.00"/><text class="l" x="1580.75" y="148.80" textLength="10.61" lengthAdjust="spacingAndGlyphs">AB</text>
<text class="l" x="1663.75" y="129.60" textLength="24.20" lengthAdjust="spacingAndGlyphs">p1 (0)</text><use href="#bAB" x="1655.55" y="132.00"/><text class="l" x="1673.90" y="148.80" textLength="10.61" lengthAdjust="spacingAndGlyphs">AB</text><rect x="1655.00" y="110.00" width="44" height="46" fill="#FEFEF5" fill-opacity="0.885"/>
<text class="l" x="1756.90" y="129.60" textLength="24.20" lengthAdjust="spacingAndGlyphs">p1 (0)</text><use href="#bMB" x="1748.70" y="132.00"/><text class="l" x="1767.05" y="148.80" textLength="12.14" lengthAdjust="spacingAndGlyphs">MB</text>
<text class="l" x="1754.40" y="215.60" textLength="29.20" lengthAdjust="spacingAndGlyphs">p2 (10)</text><use href="#bMB" x="1748.70" y="218.00"/><text class="l" x="1767.05" y="234.80" textLength="12.14" lengthAdjust="spacingAndGlyphs">MB</text>
<text class="l" x="1850.05" y="129.60" textLength="24.20" lengthAdjust="spacingAndGlyphs">p1 (0)</text><use href="#bMB" x="1841.85" y="132.00"/><text class="l" x="1860.20" y="148.80" textLength="12.14" lengthAdjust="spacingAndGlyphs">MB</text><rect x="1841.00" y="110.00" width="44" height="46" fill="#FEFEF5" fill-opacity="0.885"/>
<text class="l" x="1850.05" y="215.60" textLength="24.20" lengthAdjust="spacingAndGlyphs">p2 (0)</text><use href="#bMB" x="1841.85" y="218.00"/><text class="l" x="1860.20" y="234.80" textLength="12.14" lengthAdjust="spacingAndGlyphs">MB</text><rect x="1841.00" y="196.00" width="44" height="46" fill="#FEFEF5" fill-opacity="0.885"/>
<text class="l" x="1943.20" y="129.60" textLength="24.20" lengthAdjust="spacingAndGlyphs">p1 (0)</text><use href="#bAB" x="1935.00" y="132.00"/><text class="l" x="1953.35" y="148.80" textLength="10.61" lengthAdjust="spacingAndGlyphs">AB</text>
<text class="l" x="1943.20" y="215.60" textLength="24.20" lengthAdjust="spacingAndGlyphs">p2 (0)</text><use href="#nMB" x="1935.00" y="218.00"/><text class="l" x="1953.35" y="234.80" textLength="12.14" lengthAdjust="spacingAndGlyphs">MB</text>
<text class="l" x="1933.20" y="301.60" textLength="44.19" lengthAdjust="spacingAndGlyphs">p3 (11110)</text><use href="#bAB" x="1935.00" y="304.00"/><text class="l" x="1953.35" y="320.80" textLength="10.61" lengthAdjust="spacingAndGlyphs">AB</text>
<rect x="781.7" y="197.1" width="35.1" height="8.2" fill="#6F66DC" stroke="#0c0c30" stroke-width="1"/>
<text class="l" x="785.30" y="203.90" textLength="16.16" lengthAdjust="spacingAndGlyphs" style="fill:#fff;stroke:#fff">←p2</text>
<circle cx="209.3" cy="114.8" r="1.75" fill="#3a32e6" stroke="#0a0a3a" stroke-width="1.2"/>
<circle cx="778.0" cy="201.6" r="1.75" fill="#3a32e6" stroke="#0a0a3a" stroke-width="1.2"/>
</svg></body></html>
